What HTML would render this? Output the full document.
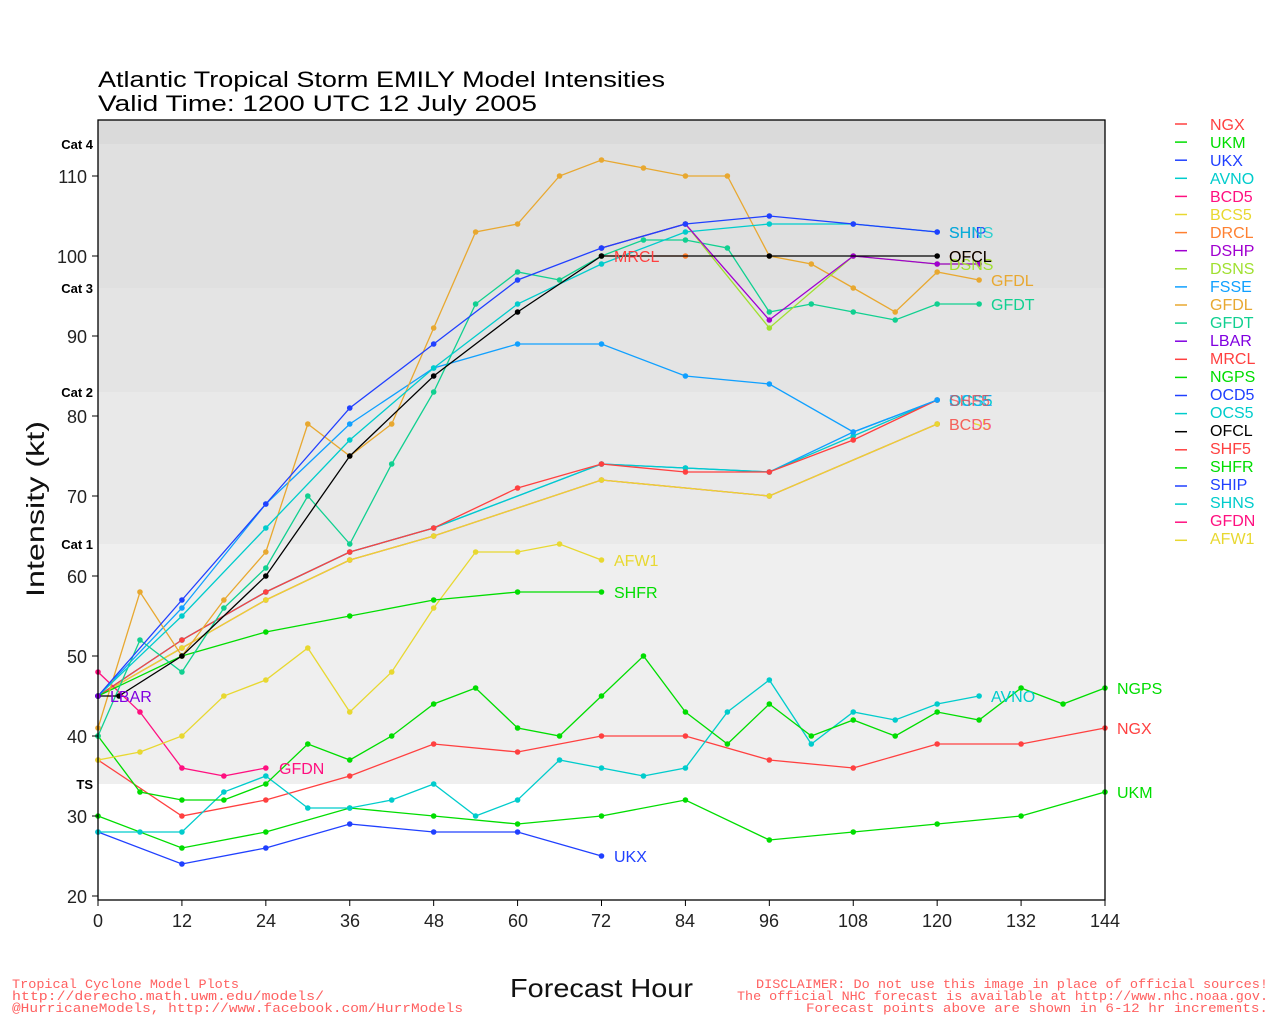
<!DOCTYPE html>
<html><head><meta charset="utf-8"><style>
body{margin:0;background:#fff;width:1280px;height:1024px;overflow:hidden}
svg{font-family:"Liberation Sans",sans-serif}
</style></head><body>
<svg id="s" width="1280" height="1024" xmlns="http://www.w3.org/2000/svg">
<rect x="98" y="120" width="1007" height="780" fill="#fff"/>
<rect x="98" y="120" width="1007" height="24" fill="#dadada"/>
<rect x="98" y="144" width="1007" height="144" fill="#e0e0e0"/>
<rect x="98" y="288" width="1007" height="104" fill="#e4e4e4"/>
<rect x="98" y="392" width="1007" height="152" fill="#e9e9e9"/>
<rect x="98" y="544" width="1007" height="240" fill="#efefef"/>
<g id="plot"></g>
<rect x="98" y="120" width="1007" height="780" fill="none" stroke="#000" stroke-width="1.3"/>
<g font-size="22" fill="#000">
<text x="98" y="87" textLength="567" lengthAdjust="spacingAndGlyphs">Atlantic Tropical Storm EMILY Model Intensities</text>
<text x="98" y="111" textLength="439" lengthAdjust="spacingAndGlyphs">Valid Time: 1200 UTC 12 July 2005</text>
</g>
<g font-size="13" font-weight="bold" text-anchor="end">
<text x="93" y="149">Cat 4</text><text x="93" y="293">Cat 3</text><text x="93" y="397">Cat 2</text><text x="93" y="549">Cat 1</text><text x="93" y="789">TS</text>
</g>
<g font-size="18" fill="#222" text-anchor="end">
<text x="87" y="903">20</text><text x="87" y="823">30</text><text x="87" y="743">40</text><text x="87" y="663">50</text><text x="87" y="583">60</text><text x="87" y="503">70</text><text x="87" y="423">80</text><text x="87" y="343">90</text><text x="87" y="263">100</text><text x="87" y="183">110</text>
</g>
<g font-size="18" fill="#222" text-anchor="middle">
<text x="98" y="927">0</text><text x="182" y="927">12</text><text x="266" y="927">24</text><text x="350" y="927">36</text><text x="434" y="927">48</text><text x="518" y="927">60</text><text x="601" y="927">72</text><text x="685" y="927">84</text><text x="769" y="927">96</text><text x="853" y="927">108</text><text x="937" y="927">120</text><text x="1021" y="927">132</text><text x="1105" y="927">144</text>
</g>
<text x="-597" y="44" font-size="25" fill="#111" transform="rotate(-90)" textLength="176" lengthAdjust="spacingAndGlyphs">Intensity (kt)</text>
<text x="510" y="997" font-size="26" fill="#111" textLength="183" lengthAdjust="spacingAndGlyphs">Forecast Hour</text>
<g font-family="Liberation Mono,monospace" font-size="13" fill="#ff6060">
<text x="12" y="988" textLength="227" lengthAdjust="spacingAndGlyphs">Tropical Cyclone Model Plots</text>
<text x="12" y="1000" textLength="312" lengthAdjust="spacingAndGlyphs">http://derecho.math.uwm.edu/models/</text>
<text x="12" y="1012" textLength="451" lengthAdjust="spacingAndGlyphs">@HurricaneModels, http://www.facebook.com/HurrModels</text>
<text x="756" y="988" textLength="512" lengthAdjust="spacingAndGlyphs">DISCLAIMER: Do not use this image in place of official sources!</text>
<text x="737" y="1000" textLength="531" lengthAdjust="spacingAndGlyphs">The official NHC forecast is available at http://www.nhc.noaa.gov.</text>
<text x="806" y="1012" textLength="462" lengthAdjust="spacingAndGlyphs">Forecast points above are shown in 6-12 hr increments.</text>
</g>
<g font-size="16">
<text x="614" y="862" fill="#2040ff">UKX</text>
<text x="1117" y="798" fill="#00dd00">UKM</text>
<text x="1117" y="734" fill="#ff4040">NGX</text>
<text x="991" y="702" fill="#00cccc">AVNO</text>
<text x="1117" y="694" fill="#00dd00">NGPS</text>
<text x="279" y="774" fill="#ff1080">GFDN</text>
<text x="110" y="702" fill="#8000e0">LBAR</text>
<text x="614" y="566" fill="#e8d830">AFW1</text>
<text x="614" y="598" fill="#00dd00">SHFR</text>
<text x="949" y="430" fill="#e8d830">BCS5</text>
<text x="949" y="430" fill="#ff1080" opacity=".6">BCD5</text>
<text x="949" y="406" fill="#00cccc">OCS5</text>
<text x="949" y="406" fill="#10a0ff" opacity=".7">DSSE</text>
<text x="949" y="406" fill="#ff4040" opacity=".7">SHF5</text>
<text x="991" y="310" fill="#10d090">GFDT</text>
<text x="991" y="286" fill="#e8a830">GFDL</text>
<text x="949" y="270" fill="#a0e030">DSNS</text>
<text x="949" y="262" fill="#ff8030">OFCL</text>
<text x="949" y="262" fill="#000">OFCL</text>
<text x="614" y="262" fill="#ff4040">MRCL</text>
<text x="949" y="238" fill="#2040ff">SHIP</text>
<text x="949" y="238" fill="#00cccc" opacity=".8">SHNS</text>
</g>
<g font-size="16">
<text x="1210" y="130" fill="#ff4040">NGX</text>
<text x="1210" y="148" fill="#00dd00">UKM</text>
<text x="1210" y="166" fill="#2040ff">UKX</text>
<text x="1210" y="184" fill="#00cccc">AVNO</text>
<text x="1210" y="202" fill="#ff1080">BCD5</text>
<text x="1210" y="220" fill="#e8d830">BCS5</text>
<text x="1210" y="238" fill="#ff8030">DRCL</text>
<text x="1210" y="256" fill="#a000d0">DSHP</text>
<text x="1210" y="274" fill="#a0e030">DSNS</text>
<text x="1210" y="292" fill="#10a0ff">FSSE</text>
<text x="1210" y="310" fill="#e8a830">GFDL</text>
<text x="1210" y="328" fill="#10d090">GFDT</text>
<text x="1210" y="346" fill="#8000e0">LBAR</text>
<text x="1210" y="364" fill="#ff4040">MRCL</text>
<text x="1210" y="382" fill="#00dd00">NGPS</text>
<text x="1210" y="400" fill="#2040ff">OCD5</text>
<text x="1210" y="418" fill="#00cccc">OCS5</text>
<text x="1210" y="436" fill="#000">OFCL</text>
<text x="1210" y="454" fill="#ff4040">SHF5</text>
<text x="1210" y="472" fill="#00dd00">SHFR</text>
<text x="1210" y="490" fill="#2040ff">SHIP</text>
<text x="1210" y="508" fill="#00cccc">SHNS</text>
<text x="1210" y="526" fill="#ff1080">GFDN</text>
<text x="1210" y="544" fill="#e8d830">AFW1</text>
</g>
</svg>
<script>
var NS="http://www.w3.org/2000/svg",P=document.getElementById("plot"),S=document.getElementById("s");
function X(h){return 98+h*1007/144}function Y(v){return 896-(v-20)*8}
function el(t,a,p){var e=document.createElementNS(NS,t);for(var k in a)e.setAttribute(k,a[k]);(p||P).appendChild(e);return e}
for(var v=20;v<=110;v+=10)el("line",{x1:92,x2:98,y1:Y(v),y2:Y(v),stroke:"#000"},S);
for(var h=0;h<=144;h+=12)el("line",{x1:X(h),x2:X(h),y1:900,y2:906,stroke:"#000"},S);
var D=[
["#ff8030",[[72,100],[84,100]]],
["#ff1080",[[0,45],[12,51],[24,57],[36,62],[48,65],[72,72],[96,70],[120,79]]],
["#e8d830",[[0,45],[12,51],[24,57],[36,62],[48,65],[72,72],[96,70],[120,79]]],
["#10a0ff",[[0,45],[12,52],[24,58],[36,63],[48,66],[72,74],[84,73.5],[96,73],[108,78],[120,82]]],
["#00cccc",[[0,45],[12,52],[24,58],[36,63],[48,66],[72,74],[84,73.5],[96,73],[108,77.5],[120,82]]],
["#ff4040",[[0,45],[12,52],[24,58],[36,63],[48,66],[60,71],[72,74],[84,73],[96,73],[108,77],[120,82]]],
["#2040ff",[[0,28],[12,24],[24,26],[36,29],[48,28],[60,28],[72,25]]],
["#00dd00",[[0,30],[12,26],[24,28],[36,31],[48,30],[60,29],[72,30],[84,32],[96,27],[108,28],[120,29],[132,30],[144,33]]],
["#ff4040",[[0,37],[12,30],[24,32],[36,35],[48,39],[60,38],[72,40],[84,40],[96,37],[108,36],[120,39],[132,39],[144,41]]],
["#00cccc",[[0,28],[6,28],[12,28],[18,33],[24,35],[30,31],[36,31],[42,32],[48,34],[54,30],[60,32],[66,37],[72,36],[78,35],[84,36],[90,43],[96,47],[102,39],[108,43],[114,42],[120,44],[126,45]]],
["#00dd00",[[0,40],[6,33],[12,32],[18,32],[24,34],[30,39],[36,37],[42,40],[48,44],[54,46],[60,41],[66,40],[72,45],[78,50],[84,43],[90,39],[96,44],[102,40],[108,42],[114,40],[120,43],[126,42],[132,46],[138,44],[144,46]]],
["#ff1080",[[0,48],[6,43],[12,36],[18,35],[24,36]]],
["#e8d830",[[0,37],[6,38],[12,40],[18,45],[24,47],[30,51],[36,43],[42,48],[48,56],[54,63],[60,63],[66,64],[72,62]]],
["#00dd00",[[0,45],[12,50],[24,53],[36,55],[48,57],[60,58],[72,58]]],
["#10a0ff",[[0,45],[12,56],[24,69],[36,79],[48,86],[60,89],[72,89],[84,85],[96,84],[108,78],[120,82]]],
["#10d090",[[0,40],[6,52],[12,48],[18,56],[24,61],[30,70],[36,64],[42,74],[48,83],[54,94],[60,98],[66,97],[72,100],[78,102],[84,102],[90,101],[96,93],[102,94],[108,93],[114,92],[120,94],[126,94]]],
["#e8a830",[[0,41],[6,58],[12,50],[18,57],[24,63],[30,79],[36,75],[42,79],[48,91],[54,103],[60,104],[66,110],[72,112],[78,111],[84,110],[90,110],[96,100],[102,99],[108,96],[114,93],[120,98],[126,97]]],
["#00cccc",[[0,45],[12,55],[24,66],[36,77],[48,86],[60,94],[72,99],[84,103],[96,104],[108,104],[120,103]]],
["#a0e030",[[72,101],[84,104],[96,91],[108,100],[120,99],[126,99]]],
["#a000d0",[[72,101],[84,104],[96,92],[108,100],[120,99],[126,99]]],
["#2040ff",[[0,45],[12,57],[24,69],[36,81],[48,89],[60,97],[72,101],[84,104],[96,105],[108,104],[120,103]]],
["#000",[[0,45],[3,45],[12,50],[24,60],[36,75],[48,85],[60,93],[72,100],[96,100],[120,100]]],
["#8000e0",[[0,45]]]
];
D.forEach(function(s){var pts=s[1].map(function(p){return X(p[0]).toFixed(1)+","+Y(p[1]).toFixed(1)}).join(" ");
el("polyline",{points:pts,fill:"none",stroke:s[0],"stroke-width":1.3});
s[1].forEach(function(p){el("circle",{cx:X(p[0]),cy:Y(p[1]),r:2.8,fill:s[0]})});});
var cols=["#ff4040","#00dd00","#2040ff","#00cccc","#ff1080","#e8d830","#ff8030","#a000d0","#a0e030","#10a0ff","#e8a830","#10d090","#8000e0","#ff4040","#00dd00","#2040ff","#00cccc","#000","#ff4040","#00dd00","#2040ff","#00cccc","#ff1080","#e8d830"];
cols.forEach(function(c,i){el("line",{x1:1175,x2:1187,y1:124+i*18.1,y2:124+i*18.1,stroke:c,"stroke-width":1.5},S)});
</script>
</body></html>
